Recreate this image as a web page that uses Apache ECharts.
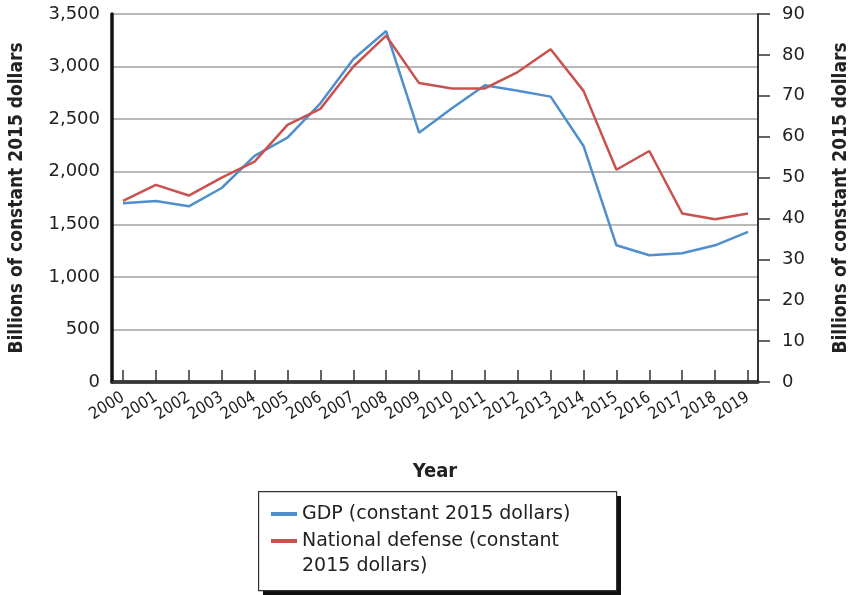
<!DOCTYPE html>
<html>
<head>
<meta charset="utf-8">
<script src="https://cdn.jsdelivr.net/npm/echarts@6/dist/echarts.min.js"></script>
<style>
html,body{margin:0;padding:0;background:#fff;}
#chart{width:850px;height:595px;}
</style>
</head>
<body>
<div id="chart"></div>
<script>
const years = ['2000','2001','2002','2003','2004','2005','2006','2007','2008','2009','2010','2011','2012','2013','2014','2015','2016','2017','2018','2019'];
const gdp = [1700,1721,1671,1845,2150,2324,2650,3069,3338,2371,2603,2822,2771,2714,2245,1300,1205,1224,1300,1427];
const defense = [44.3,48.2,45.6,50.0,53.9,62.9,66.8,77.1,84.7,73.1,71.8,71.8,75.8,81.4,71.2,51.9,56.5,41.2,39.8,41.2];
const leftTicks = {min:0, max:3500, interval:500};
const rightTicks = {min:0, max:90, interval:10};
const gdpName = 'GDP (constant 2015 dollars)';
const defName = 'National defense (constant 2015 dollars)';
const axisTitle = 'Billions of constant 2015 dollars';

const FONT = '"DejaVu Sans", "Open Sans", sans-serif';
const COND = '"Liberation Sans Narrow", "DejaVu Sans Condensed", "Open Sans", sans-serif';

const chart = echarts.init(document.getElementById('chart'));
chart.setOption({
  animation: false,
  backgroundColor: '#fff',
  textStyle: {fontFamily: FONT},
  grid: [
    {left: 112, right: 92, top: 14, bottom: 213, containLabel: false, outerBoundsMode: 'none'},
    {left: 123, right: 102, top: 14, bottom: 213, containLabel: false, outerBoundsMode: 'none'}
  ],
  xAxis: [
    {gridIndex: 0, type: 'category', data: years, boundaryGap: false,
     axisLine: {show: true, lineStyle: {color: '#111', width: 3.5}},
     axisTick: {show: false}, axisLabel: {show: false}, splitLine: {show: false},
     name: 'Year', nameLocation: 'middle', nameGap: 80,
     nameTextStyle: {fontFamily: COND, fontSize: 20, fontWeight: 'bold', color: '#222'}},
    {gridIndex: 0, type: 'category', data: years, position: 'top', boundaryGap: false,
     axisLine: {show: true, lineStyle: {color: '#444', width: 1.5}},
     axisTick: {show: false}, axisLabel: {show: false}, splitLine: {show: false}},
    {gridIndex: 1, type: 'category', data: years, boundaryGap: false,
     axisLine: {show: false},
     axisTick: {show: true, inside: true, length: 12, interval: 0, lineStyle: {color: '#333', width: 1.5}},
     axisLabel: {rotate: 32, margin: 14, interval: 0, fontSize: 16.5, color: '#222', fontFamily: COND},
     splitLine: {show: false}}
  ],
  yAxis: [
    {gridIndex: 0, type: 'value', position: 'left', min: leftTicks.min, max: leftTicks.max, interval: leftTicks.interval,
     axisLine: {show: true, lineStyle: {color: '#111', width: 3.5}},
     axisTick: {show: false},
     axisLabel: {margin: 12, fontSize: 18, color: '#222', fontFamily: FONT,
       formatter: v => v.toLocaleString('en-US')},
     splitLine: {show: true, lineStyle: {color: '#a0a0a0', width: 1.5}},
     name: axisTitle, nameLocation: 'middle', nameGap: 85, nameRotate: 90,
     nameTextStyle: {fontFamily: COND, fontSize: 19, fontWeight: 'bold', color: '#222'}},
    {gridIndex: 0, type: 'value', position: 'right', min: rightTicks.min, max: rightTicks.max, interval: rightTicks.interval,
     axisLine: {show: true, lineStyle: {color: '#333', width: 2}},
     axisTick: {show: true, length: 12, lineStyle: {color: '#333', width: 1.5}},
     axisLabel: {margin: 24, fontSize: 18, color: '#222', fontFamily: FONT},
     splitLine: {show: false},
     name: axisTitle, nameLocation: 'middle', nameGap: 74, nameRotate: 90,
     nameTextStyle: {fontFamily: COND, fontSize: 19, fontWeight: 'bold', color: '#222'}},
    {gridIndex: 1, type: 'value', min: leftTicks.min, max: leftTicks.max, interval: leftTicks.interval, show: false},
    {gridIndex: 1, type: 'value', min: rightTicks.min, max: rightTicks.max, interval: rightTicks.interval, show: false}
  ],
  legend: {
    left: 271, top: 500.5, orient: 'vertical', padding: 0, itemGap: 0,
    icon: 'rect', itemWidth: 26, itemHeight: 4,
    data: [gdpName, defName],
    textStyle: {fontFamily: FONT, fontSize: 19, color: '#222', lineHeight: 27},
    formatter: n => n === defName ? 'National defense (constant' : n
  },
  graphic: [
    {type: 'rect', left: 263, top: 496, z: -2,
     shape: {width: 358, height: 99},
     style: {fill: '#111', stroke: null}},
    {type: 'rect', left: 258, top: 491, z: -1,
     shape: {width: 358, height: 99},
     style: {fill: '#fff', stroke: '#333', lineWidth: 1.2}},
    {type: 'text', left: 302, top: 557, z: 5,
     style: {text: '2015 dollars)', font: '19px ' + FONT, fill: '#222'}}
  ],
  series: [
    {name: gdpName, type: 'line', xAxisIndex: 2, yAxisIndex: 2, data: gdp,
     showSymbol: false, symbol: 'none', lineStyle: {color: '#4f8fcc', width: 2.5}, itemStyle: {color: '#4f8fcc'}},
    {name: defName, type: 'line', xAxisIndex: 2, yAxisIndex: 3, data: defense,
     showSymbol: false, symbol: 'none', lineStyle: {color: '#c9514e', width: 2.5}, itemStyle: {color: '#c9514e'}}
  ]
});
</script>
</body>
</html>
